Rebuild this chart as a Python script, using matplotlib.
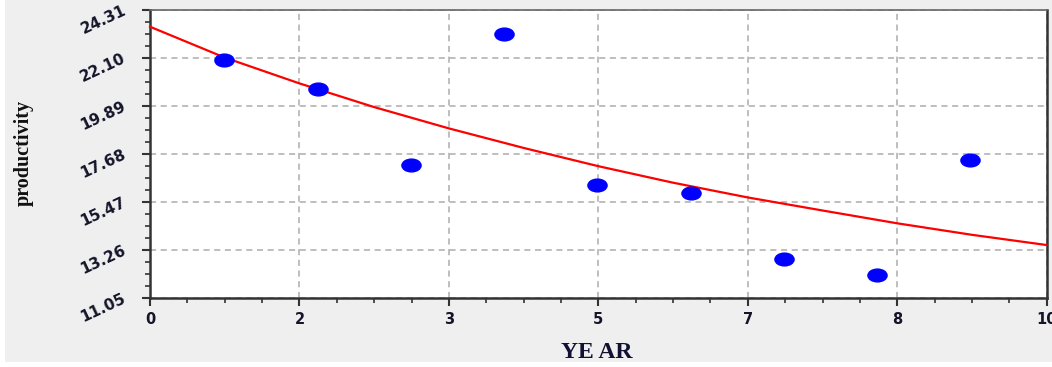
import matplotlib
matplotlib.use("Agg")
import matplotlib.pyplot as plt
from matplotlib.markers import MarkerStyle
from matplotlib.transforms import Affine2D
from matplotlib.patches import Rectangle
from matplotlib.ticker import FixedLocator, AutoMinorLocator

# Observed productivity by year
year = [0.83, 1.87, 2.91, 3.95, 4.99, 6.03, 7.07, 8.11, 9.15]
productivity = [22.01, 20.66, 17.17, 23.19, 16.24, 15.90, 12.86, 12.11, 17.40]

# Fitted trend curve
trend_year = [0.0, 0.833, 1.667, 2.5, 3.333, 4.167, 5.0, 5.833, 6.667, 7.5, 8.333, 9.167, 10.0]
trend_value = [23.54, 22.12, 20.93, 19.84, 18.86, 17.96, 17.12, 16.36, 15.68, 15.08, 14.49, 13.96, 13.49]

# Axis ticks
x_ticks = [0.0, 1.667, 3.333, 5.0, 6.667, 8.333, 10.0]
x_tick_labels = ["0", "2", "3", "5", "7", "8", "10"]
y_ticks = [11.05, 13.26, 15.47, 17.68, 19.89, 22.10, 24.31]
y_tick_labels = ["11.05", "13.26", "15.47", "17.68", "19.89", "22.10", "24.31"]

fig = plt.figure(figsize=(10.52, 3.67), dpi=100, facecolor="white")
fig.patches.append(Rectangle((5 / 1052, 5 / 367), 1 - 5 / 1052, 1 - 5 / 367,
                             transform=fig.transFigure, facecolor="#efefef",
                             edgecolor="none", zorder=-10))

ax = fig.add_axes([150 / 1052, 1 - 298 / 367, 896.5 / 1052, 288 / 367])
ax.set_facecolor("white")

ax.set_xlim(0, 10)
ax.set_ylim(11.05, 24.31)

ax.xaxis.set_major_locator(FixedLocator(x_ticks))
ax.set_xticklabels(x_tick_labels)
ax.xaxis.set_minor_locator(AutoMinorLocator(4))
ax.yaxis.set_major_locator(FixedLocator(y_ticks))
ax.set_yticklabels(y_tick_labels)
ax.yaxis.set_minor_locator(AutoMinorLocator(4))

ax.grid(True, which="major", color="#acacac", linestyle=(0, (4, 3)), linewidth=1.1)
ax.set_axisbelow(True)

ax.tick_params(axis="both", which="major", direction="out", length=6, width=1.5, color="#333333")
ax.tick_params(axis="both", which="minor", direction="out", length=3.5, width=1.2, color="#333333")
ax.tick_params(axis="x", which="major", labelsize=10.5, pad=4, labelcolor="#15152a")
ax.tick_params(axis="y", which="major", labelsize=11, pad=12, labelcolor="#15152a")

for lbl in ax.get_xticklabels():
    lbl.set_fontweight("bold")
for lbl in ax.get_yticklabels():
    lbl.set_fontweight("bold")
    lbl.set_rotation(25)
    lbl.set_rotation_mode("anchor")
    lbl.set_ha("right")
    lbl.set_va("center")

for side in ["left", "bottom", "right"]:
    ax.spines[side].set_color("#333333")
    ax.spines[side].set_linewidth(1.8)
ax.spines["top"].set_color("#666666")
ax.spines["top"].set_linewidth(1.2)

ax.plot(trend_year, trend_value, color="#ff0000", linewidth=1.6, zorder=3, clip_on=False)

ellipse = MarkerStyle("o", transform=Affine2D().scale(1.5, 1.0))
ax.plot(year, productivity, linestyle="none", marker=ellipse, markersize=9.2,
        markerfacecolor="#0000ff", markeredgecolor="#0000ff", zorder=4)

fig.text(24 / 1052, 1 - 153 / 367, "productivity", rotation=90, ha="center", va="center",
         fontsize=14.5, fontweight="bold", family="Liberation Serif", color="#111111")
fig.text(597 / 1052, 1 - 353 / 367, "YE AR", ha="center", va="center",
         fontsize=17, fontweight="bold", family="Liberation Serif", color="#111133")

fig.savefig("out.png", dpi=100, facecolor=fig.get_facecolor())
